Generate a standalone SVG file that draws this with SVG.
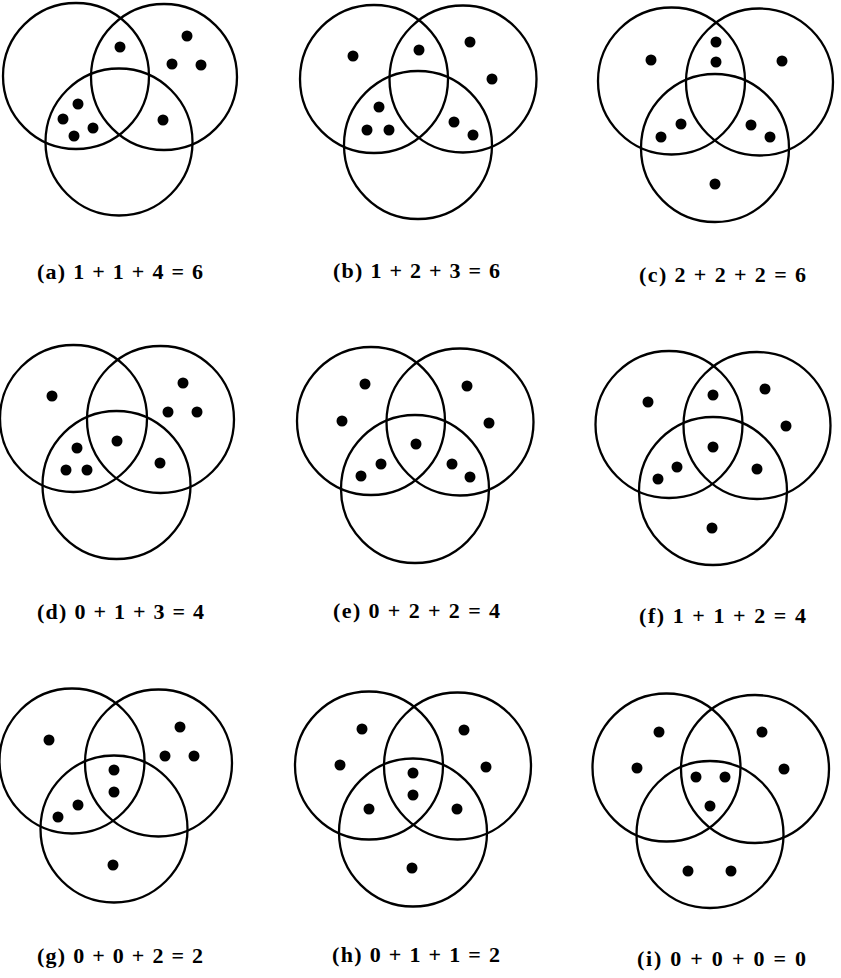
<svg xmlns="http://www.w3.org/2000/svg" width="841" height="978" viewBox="0 0 841 978">
<style>
.c{fill:none;stroke:#000;stroke-width:2.3}
.d{fill:#000}
.t{font-family:"Liberation Serif",serif;font-weight:bold;font-size:22px;fill:#000}
</style>
<rect width="841" height="978" fill="#fff"/>
<g id="panel-a">
<circle class="c" cx="76" cy="76" r="73"/><circle class="c" cx="164" cy="77" r="73"/><circle class="c" cx="119" cy="142" r="73.5"/>
<g class="d"><circle cx="120" cy="47" r="5.5"/><circle cx="187" cy="36" r="5.5"/><circle cx="172" cy="64" r="5.5"/><circle cx="201" cy="65" r="5.5"/><circle cx="78" cy="104" r="5.5"/><circle cx="63" cy="119" r="5.5"/><circle cx="93" cy="128" r="5.5"/><circle cx="74" cy="136" r="5.5"/><circle cx="163" cy="120" r="5.5"/></g>
<text class="t" x="37" y="279" textLength="166" lengthAdjust="spacing">(a) 1 + 1 + 4 = 6</text>
</g>
<g id="panel-b">
<circle class="c" cx="374" cy="79" r="74"/><circle class="c" cx="463" cy="79" r="73.5"/><circle class="c" cx="418" cy="145" r="74"/>
<g class="d"><circle cx="353" cy="56" r="5.5"/><circle cx="419" cy="50" r="5.5"/><circle cx="470" cy="42" r="5.5"/><circle cx="492" cy="79" r="5.5"/><circle cx="379" cy="107" r="5.5"/><circle cx="367" cy="130" r="5.5"/><circle cx="389" cy="130" r="5.5"/><circle cx="454" cy="122" r="5.5"/><circle cx="473" cy="135" r="5.5"/></g>
<text class="t" x="333" y="278" textLength="167" lengthAdjust="spacing">(b) 1 + 2 + 3 = 6</text>
</g>
<g id="panel-c">
<circle class="c" cx="671.5" cy="81" r="73.5"/><circle class="c" cx="759.5" cy="82" r="73.5"/><circle class="c" cx="715" cy="148" r="74"/>
<g class="d"><circle cx="716" cy="42" r="5.5"/><circle cx="716" cy="62" r="5.5"/><circle cx="651" cy="60" r="5.5"/><circle cx="782" cy="61" r="5.5"/><circle cx="681" cy="124" r="5.5"/><circle cx="661" cy="137" r="5.5"/><circle cx="751" cy="125" r="5.5"/><circle cx="770" cy="137" r="5.5"/><circle cx="715" cy="184" r="5.5"/></g>
<text class="t" x="639" y="282" textLength="167" lengthAdjust="spacing">(c) 2 + 2 + 2 = 6</text>
</g>
<g id="panel-d">
<circle class="c" cx="73.5" cy="418.5" r="73.5"/><circle class="c" cx="160.5" cy="419.5" r="73.5"/><circle class="c" cx="116.5" cy="485" r="74"/>
<g class="d"><circle cx="52" cy="396" r="5.5"/><circle cx="183" cy="383" r="5.5"/><circle cx="168" cy="412" r="5.5"/><circle cx="197" cy="412" r="5.5"/><circle cx="117" cy="441" r="5.5"/><circle cx="77" cy="448" r="5.5"/><circle cx="66" cy="470" r="5.5"/><circle cx="87" cy="470" r="5.5"/><circle cx="160" cy="463" r="5.5"/></g>
<text class="t" x="37" y="619" textLength="167" lengthAdjust="spacing">(d) 0 + 1 + 3 = 4</text>
</g>
<g id="panel-e">
<circle class="c" cx="371" cy="421" r="74"/><circle class="c" cx="460" cy="422" r="73.5"/><circle class="c" cx="415" cy="489" r="74"/>
<g class="d"><circle cx="365" cy="384" r="5.5"/><circle cx="342" cy="421" r="5.5"/><circle cx="467" cy="386" r="5.5"/><circle cx="489" cy="423" r="5.5"/><circle cx="416" cy="444" r="5.5"/><circle cx="381" cy="464" r="5.5"/><circle cx="361" cy="476" r="5.5"/><circle cx="452" cy="464" r="5.5"/><circle cx="470" cy="477" r="5.5"/></g>
<text class="t" x="333" y="618" textLength="167" lengthAdjust="spacing">(e) 0 + 2 + 2 = 4</text>
</g>
<g id="panel-f">
<circle class="c" cx="669" cy="424.5" r="73.5"/><circle class="c" cx="757" cy="425.5" r="73.5"/><circle class="c" cx="713" cy="491" r="74"/>
<g class="d"><circle cx="648" cy="402" r="5.5"/><circle cx="713" cy="395" r="5.5"/><circle cx="765" cy="389" r="5.5"/><circle cx="786" cy="426" r="5.5"/><circle cx="713" cy="447" r="5.5"/><circle cx="677" cy="467" r="5.5"/><circle cx="658" cy="479" r="5.5"/><circle cx="757" cy="469" r="5.5"/><circle cx="712" cy="528" r="5.5"/></g>
<text class="t" x="639" y="623" textLength="167" lengthAdjust="spacing">(f) 1 + 1 + 2 = 4</text>
</g>
<g id="panel-g">
<circle class="c" cx="72" cy="761" r="72.5"/><circle class="c" cx="158.5" cy="763" r="73.5"/><circle class="c" cx="114" cy="829" r="73.5"/>
<g class="d"><circle cx="49" cy="740" r="5.5"/><circle cx="180" cy="727" r="5.5"/><circle cx="165" cy="756" r="5.5"/><circle cx="194" cy="756" r="5.5"/><circle cx="114" cy="770" r="5.5"/><circle cx="114" cy="792" r="5.5"/><circle cx="78" cy="805" r="5.5"/><circle cx="58" cy="817" r="5.5"/><circle cx="113" cy="865" r="5.5"/></g>
<text class="t" x="37" y="963" textLength="166" lengthAdjust="spacing">(g) 0 + 0 + 2 = 2</text>
</g>
<g id="panel-h">
<circle class="c" cx="369" cy="765.5" r="74"/><circle class="c" cx="457.5" cy="766" r="73.5"/><circle class="c" cx="413" cy="832.5" r="74"/>
<g class="d"><circle cx="362" cy="729" r="5.5"/><circle cx="340" cy="765" r="5.5"/><circle cx="464" cy="730" r="5.5"/><circle cx="486" cy="767" r="5.5"/><circle cx="413" cy="773" r="5.5"/><circle cx="413" cy="795" r="5.5"/><circle cx="369" cy="809" r="5.5"/><circle cx="457" cy="809" r="5.5"/><circle cx="412" cy="868" r="5.5"/></g>
<text class="t" x="332" y="962" textLength="168" lengthAdjust="spacing">(h) 0 + 1 + 1 = 2</text>
</g>
<g id="panel-i">
<circle class="c" cx="666.5" cy="767.5" r="74"/><circle class="c" cx="755" cy="769" r="74"/><circle class="c" cx="710" cy="834.5" r="73.5"/>
<g class="d"><circle cx="659" cy="732" r="5.5"/><circle cx="637" cy="768" r="5.5"/><circle cx="762" cy="732" r="5.5"/><circle cx="784" cy="769" r="5.5"/><circle cx="696" cy="777" r="5.5"/><circle cx="725" cy="777" r="5.5"/><circle cx="710" cy="806" r="5.5"/><circle cx="688" cy="871" r="5.5"/><circle cx="731" cy="871" r="5.5"/></g>
<text class="t" x="637" y="966" textLength="169" lengthAdjust="spacing">(i) 0 + 0 + 0 = 0</text>
</g>
<g id="connectors"/>
</svg>
